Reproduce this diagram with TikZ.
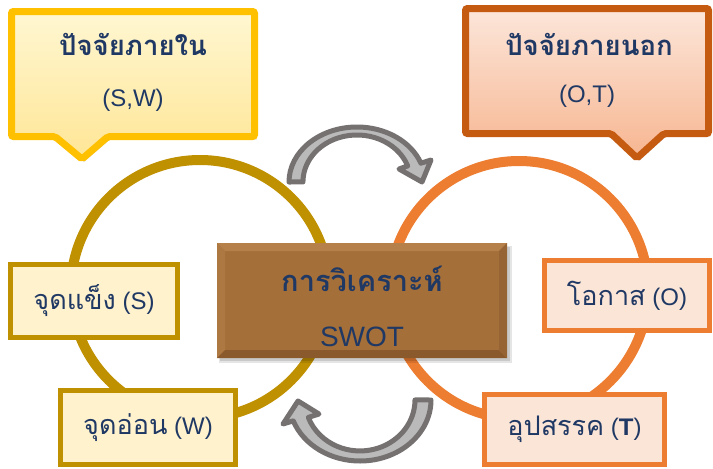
\documentclass[tikz,border=0pt]{standalone}
\usepackage{fontspec}
\setmainfont{Liberation Sans}
\newfontfamily\thai[Script=Thai]{Loma}
\usetikzlibrary{calc}
\definecolor{navy}{RGB}{31,56,100}
\definecolor{goldline}{RGB}{191,144,0}
\definecolor{orangeline}{RGB}{237,125,49}
\definecolor{sfill}{RGB}{255,242,204}
\definecolor{ofill}{RGB}{251,229,214}
\definecolor{calloutY}{RGB}{255,192,0}
\definecolor{calloutO}{RGB}{197,90,17}
\definecolor{yTop}{RGB}{255,247,210}
\definecolor{yBot}{RGB}{255,230,150}
\definecolor{oTop}{RGB}{252,230,218}
\definecolor{oBot}{RGB}{247,182,145}
\definecolor{brownfill}{RGB}{165,111,57}
\definecolor{bevelTop}{RGB}{182,128,74}
\definecolor{bevelLeft}{RGB}{174,120,66}
\definecolor{bevelBot}{RGB}{138,90,44}
\definecolor{bevelRight}{RGB}{150,100,52}
\definecolor{arrowdark}{RGB}{118,113,113}
\definecolor{arrowlight}{RGB}{186,186,186}
\newcommand{\thtxt}[1]{{\thai\fontsize{27}{30}\selectfont #1}}
\begin{document}
\begin{tikzpicture}[x=1pt,y=-1pt,
  ring/.style={circle, line width=10pt, inner sep=0pt, minimum size=258pt},
  sbox/.style={draw=goldline, fill=sfill, line width=5pt, inner sep=0pt, text=navy, font=\fontsize{24}{28}\selectfont},
  obox/.style={draw=orangeline, fill=ofill, line width=5pt, inner sep=0pt, text=navy, font=\fontsize{24}{28}\selectfont},
  cyc/.style={draw=arrowdark, fill=arrowlight, line width=5pt, line join=round},
  ttl/.style={text=navy, inner sep=0pt, font=\thai\bfseries\fontsize{27.5}{31}\selectfont},
  sub/.style={text=navy, inner sep=0pt, font=\fontsize{24}{28}\selectfont}
]
\useasboundingbox (0,0) rectangle (713,469);

% rings
\node[ring, draw=goldline] (lring) at (200,289) {};
\node[ring, draw=orangeline] (rring) at (519,290) {};

% callouts
\fill[black, opacity=0.12] (13.5,14.5) -- (256.5,14.5) -- (256.5,139.5) -- (110,139.5) -- (84,162) -- (57,139.5) -- (13.5,139.5) -- cycle;
\path[draw=calloutY, line width=7pt, rounded corners=2pt, top color=yTop, bottom color=yBot]
  (11.5,11.5) -- (254.5,11.5) -- (254.5,136.5) -- (108,136.5) -- (82,159) -- (55,136.5) -- (11.5,136.5) -- cycle;
\node[ttl] (lttl) at (133,44) {ปัจจัยภายใน};
\node[sub] (lsub) at (133,100) {(S,W)};

\fill[black, opacity=0.12] (467.5,11.5) -- (710.5,11.5) -- (710.5,136.5) -- (666,136.5) -- (639,161) -- (613,136.5) -- (467.5,136.5) -- cycle;
\path[draw=calloutO, line width=7pt, rounded corners=2pt, top color=oTop, bottom color=oBot]
  (465.5,8.5) -- (708.5,8.5) -- (708.5,133.5) -- (664,133.5) -- (637,158) -- (611,133.5) -- (465.5,133.5) -- cycle;
\node[ttl] (rttl) at (589,44) {ปัจจัยภายนอก};
\node[sub] (rsub) at (587,96) {(O,T)};

% cycle arrows
\path[cyc] (289,182) arc[start angle=180, end angle=340, x radius=68, y radius=55]
  -- (431,160) -- (422,182) -- (399,169) -- (407.7,165.9)
  arc[start angle=340, end angle=180, x radius=54, y radius=47] -- cycle;
\path[cyc] (431,400) arc[start angle=0, end angle=160, x radius=71, y radius=61]
  -- (283,424) -- (298,401) -- (319,414) -- (308.3,417.4)
  arc[start angle=160, end angle=0, x radius=55, y radius=51] -- cycle;

% centre box
\fill[black, opacity=0.10] (219,246) rectangle (512,363);
\fill[black, opacity=0.12] (220,247) rectangle (510,361);
\node[fill=brownfill, minimum width=290pt, minimum height=115pt, inner sep=0pt] (cbox) at (362,300.5) {};
\fill[bevelTop] (217,243) -- (507,243) -- (499,251) -- (225,251) -- cycle;
\fill[bevelLeft] (217,243) -- (225,251) -- (225,350) -- (217,358) -- cycle;
\fill[bevelBot] (217,358) -- (225,350) -- (499,350) -- (507,358) -- cycle;
\fill[bevelRight] (507,243) -- (499,251) -- (499,350) -- (507,358) -- cycle;
\node[text=navy, inner sep=0pt, font=\thai\bfseries\fontsize{29}{33}\selectfont] (ctitle) at (362,279) {การวิเคราะห์};
\node[text=navy, inner sep=0pt, font=\fontsize{28}{32}\selectfont] (cswot) at (362,337) {SWOT};

% small boxes
\node[sbox, minimum width=167pt, minimum height=73pt] (sboxS) at (94,301) {\thtxt{จุดแข็ง} (S)};
\node[sbox, minimum width=175pt, minimum height=74pt] (sboxW) at (148,427.5) {\thtxt{จุดอ่อน} (W)};
\node[obox, minimum width=165pt, minimum height=70pt] (oboxO) at (627,295.5) {\thtxt{โอกาส} (O)};
\node[obox, minimum width=180pt, minimum height=70pt] (oboxT) at (574.5,429.5) {\thtxt{อุปสรรค} (\textbf{T})};
\end{tikzpicture}
\end{document}
